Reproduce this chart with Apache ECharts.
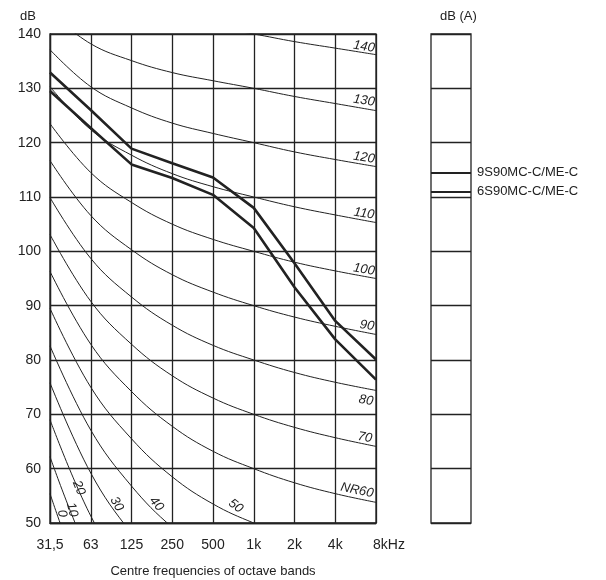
<!DOCTYPE html>
<html>
<head>
<meta charset="utf-8">
<script src="https://cdn.jsdelivr.net/npm/echarts@6/dist/echarts.min.js"></script>
<style>
  html, body { margin: 0; padding: 0; background: #fff; }
  #main { width: 606px; height: 580px; }
</style>
</head>
<body>
<div id="main"></div>
<script>
// octave band centre frequencies
var freqs = ['31,5', '63', '125', '250', '500', '1k', '2k', '4k', '8kHz'];

// NR curves (dB per octave band)
var nr0   = [55.4, 35.5, 22.0, 12.0, 4.8, 0, -3.5, -6.1, -8.0];
var nr10  = [62.2, 43.4, 30.7, 21.3, 14.5, 10, 6.7, 4.2, 2.3];
var nr20  = [69.0, 51.3, 39.4, 30.6, 24.3, 20, 16.8, 14.4, 12.6];
var nr30  = [75.8, 59.2, 48.1, 39.9, 34.0, 30, 27.0, 24.7, 22.9];
var nr40  = [82.6, 67.1, 56.8, 49.2, 43.8, 40, 37.1, 34.9, 33.2];
var nr50  = [89.5, 75.0, 65.5, 58.5, 53.5, 50, 47.3, 45.2, 43.5];
var nr60  = [96.3, 82.9, 74.2, 67.8, 63.2, 60, 57.4, 55.4, 53.8];
var nr70  = [103.1, 90.8, 82.9, 77.1, 73.0, 70, 67.6, 65.7, 64.1];
var nr80  = [109.9, 98.7, 91.6, 86.4, 82.7, 80, 77.7, 75.9, 74.4];
var nr90  = [116.7, 106.6, 100.3, 95.7, 92.5, 90, 87.9, 86.2, 84.7];
var nr100 = [123.5, 114.5, 109.0, 105.0, 102.2, 100, 98.0, 96.4, 95.0];
var nr110 = [130.3, 122.4, 117.7, 114.3, 111.9, 110, 108.2, 106.7, 105.3];
var nr120 = [137.1, 130.3, 126.4, 123.6, 121.7, 120, 118.3, 116.9, 115.6];
var nr130 = [143.9, 138.2, 135.1, 132.9, 131.4, 130, 128.5, 127.2, 125.9];
var nr140 = [150.7, 146.1, 143.8, 142.2, 141.2, 140, 138.6, 137.4, 136.2];
var nrCurves = [nr0, nr10, nr20, nr30, nr40, nr50, nr60, nr70, nr80, nr90, nr100, nr110, nr120, nr130, nr140];
var nrNames = ['0', '10', '20', '30', '40', '50', 'NR60', '70', '80', '90', '100', '110', '120', '130', '140'];

// engine spectra
var models = ['9S90MC-C/ME-C', '6S90MC-C/ME-C'];
var spec9S90 = [132.9, 126.0, 118.9, 116.2, 113.6, 108.0, 97.8, 87.2, 80.1];
var spec6S90 = [129.5, 122.7, 116.0, 113.5, 110.4, 104.3, 93.4, 83.8, 76.4];
var dBA = [114.5, 111.0];

// where each NR label sits: [anchor point index, dx, dy (screen px), rotate]
var nrLabelPos = [
  [0, 12, 20, -78], [0, 22, 53, -75], [1, -12, -28, -68], [1, 26, 31, -60],
  [2, 25, 18, -50], [5, -18, -17, -38], [8, -19, -12, -12], [8, -11, -9, -10],
  [8, -10, 10, -9], [8, -9, -9, -9], [8, -12, -9, -9], [8, -12, -9, -9],
  [8, -12, -9, -9], [8, -12, -10, -9], [8, -12, -8, -9]
];

// label offsets get rotated with the text, so turn them back
function localOffset(dx, dy, r) {
  var a = r * Math.PI / 180;
  return [dx * Math.cos(a) - dy * Math.sin(a), dx * Math.sin(a) + dy * Math.cos(a)];
}

var ink = '#222';
var font = 'Liberation Sans, Arial, sans-serif';

var series = [];
nrCurves.forEach(function (vals, k) {
  var p = nrLabelPos[k];
  series.push({
    type: 'line',
    xAxisIndex: 0, yAxisIndex: 0,
    data: vals,
    smooth: 0.4,
    symbol: 'none',
    silent: true,
    lineStyle: { color: ink, width: 1 },
    z: 3,
    markPoint: {
      symbol: 'circle', symbolSize: 0,
      silent: true,
      data: [{
        coord: [freqs[p[0]], vals[p[0]]],
        label: {
          show: true, position: 'inside', formatter: nrNames[k],
          offset: localOffset(p[1], p[2], p[3]), rotate: p[3],
          color: ink, fontSize: 13, fontStyle: 'italic', fontFamily: font
        }
      }]
    }
  });
});

[spec9S90, spec6S90].forEach(function (vals, k) {
  series.push({
    name: models[k],
    type: 'line',
    xAxisIndex: 0, yAxisIndex: 0,
    data: vals,
    symbol: 'none',
    lineStyle: { color: ink, width: 2.6 },
    z: 5
  });
});

series.push({
  type: 'line',
  xAxisIndex: 1, yAxisIndex: 1,
  data: [],
  markLine: {
    symbol: 'none',
    silent: true,
    lineStyle: { color: ink, width: 2, type: 'solid' },
    label: { position: 'end', distance: 6, color: ink, fontSize: 13, fontFamily: font },
    data: dBA.map(function (v, i) {
      return { yAxis: v, label: { formatter: models[i] } };
    })
  }
});

var chart = echarts.init(document.getElementById('main'));
chart.setOption({
  animation: false,
  backgroundColor: '#fff',
  textStyle: { fontFamily: font },
  title: [
    { text: 'dB', left: 15, top: 5, textStyle: { fontSize: 13, fontWeight: 'normal', color: ink, fontFamily: font } },
    { text: 'dB (A)', left: 435, top: 5, textStyle: { fontSize: 13, fontWeight: 'normal', color: ink, fontFamily: font } }
  ],
  grid: [
    { left: 50, right: 230, top: 34, bottom: 57, outerBoundsMode: 'none', show: true, borderColor: ink, borderWidth: 1.3, backgroundColor: 'transparent' },
    { left: 431, right: 135, top: 34, bottom: 57, outerBoundsMode: 'none', show: true, borderColor: ink, borderWidth: 1.3, backgroundColor: 'transparent' }
  ],
  xAxis: [
    {
      gridIndex: 0, type: 'category', data: freqs, boundaryGap: false,
      axisLine: { lineStyle: { color: ink, width: 1.3 } },
      axisTick: { show: false },
      axisLabel: {
        interval: 0, color: ink, fontSize: 14, margin: 15,
        formatter: function (v) { return v === '8kHz' ? '{r|' + v + '}' : v; },
        rich: { r: { fontSize: 14, color: ink, padding: [0, 0, 0, 26] } }
      },
      splitLine: { show: true, interval: 0, lineStyle: { color: ink, width: 1.3 } },
      name: 'Centre frequencies of octave bands', nameLocation: 'middle', nameGap: 42,
      nameTextStyle: { color: ink, fontSize: 13 }
    },
    {
      gridIndex: 1, type: 'value', min: 0, max: 1,
      axisLine: { show: false }, axisTick: { show: false }, axisLabel: { show: false },
      splitLine: { show: false }
    }
  ],
  yAxis: [
    {
      gridIndex: 0, type: 'value', min: 50, max: 140, interval: 10,
      axisLine: { show: true, lineStyle: { color: ink, width: 1.3 } },
      axisTick: { show: false },
      axisLabel: { color: ink, fontSize: 14, margin: 9 },
      splitLine: { show: true, lineStyle: { color: ink, width: 1.3 } }
    },
    {
      gridIndex: 1, type: 'value', min: 50, max: 140, interval: 10,
      axisLine: { show: false }, axisTick: { show: false }, axisLabel: { show: false },
      splitLine: { show: true, lineStyle: { color: ink, width: 1.3 } }
    }
  ],
  series: series
});
</script>
</body>
</html>
